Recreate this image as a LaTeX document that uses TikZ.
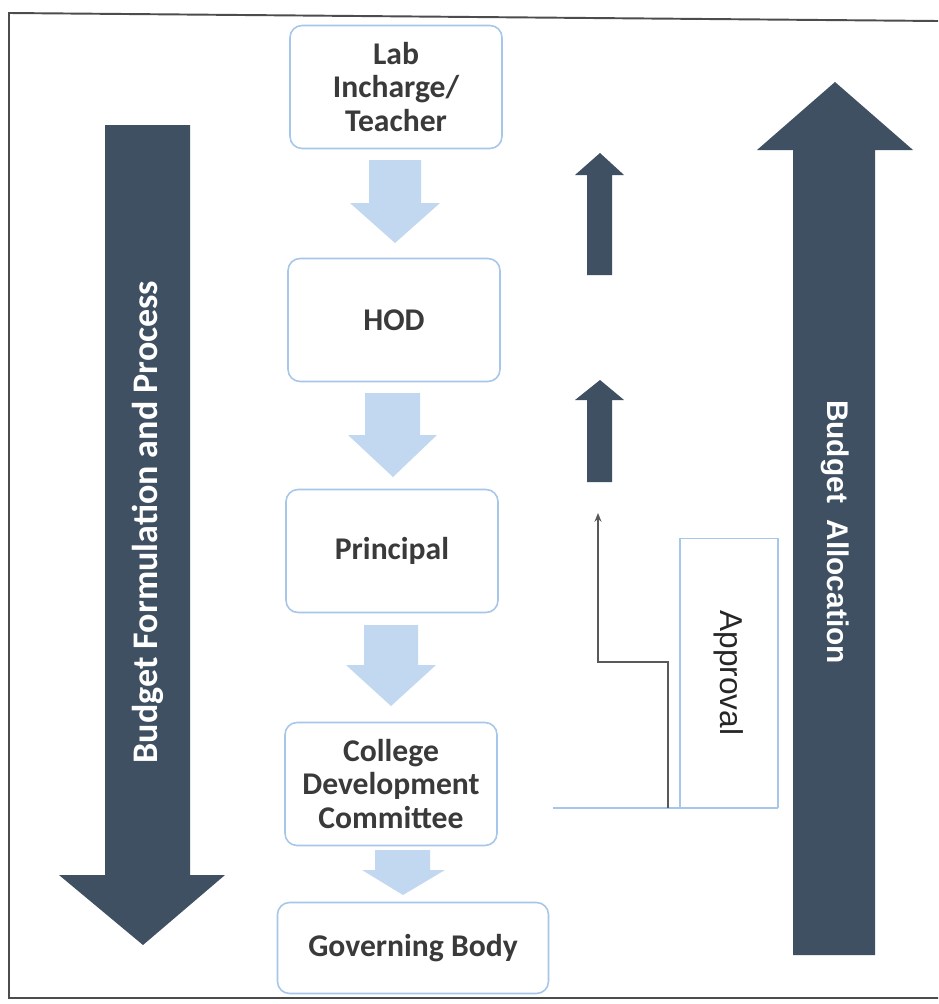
\documentclass[tikz,border=0pt]{standalone}
\usepackage{fontspec}
\setmainfont{Carlito}
\newfontfamily\arialfont{Liberation Sans}
\usetikzlibrary{positioning}
\usetikzlibrary{arrows.meta}
\usetikzlibrary{calc}

\definecolor{darkarrow}{HTML}{3E5061}
\definecolor{lightarrow}{HTML}{C2D8F1}
\definecolor{boxline}{HTML}{A6C6EA}
\definecolor{boxtext}{HTML}{3A3A3A}

\begin{document}
\begin{tikzpicture}[x=0.02cm,y=-0.02cm,
        stage/.style={draw=boxline, line width=0.9pt, rounded corners=0.24cm, fill=white,
            align=center, text=boxtext, font=\fontsize{18}{19}\selectfont\bfseries,
            minimum width=4.24cm, minimum height=2.46cm, inner sep=0pt},
        bigtext/.style={text=white, font=\fontsize{20.5}{22}\selectfont\bfseries}]
        \useasboundingbox (0,0) rectangle (938,1004);
        \fill[white] (0,0) rectangle (938,1004);
        \draw[line width=1.1pt, black!70] (938,21) -- (9,13) -- (9,998) -- (938,998);

        % the stages
        \node[stage] (lab) at (396,87) {Lab\\Incharge/\\Teacher};
        \node[stage] (hod) at (394,320) {HOD};
        \node[stage] (principal) at (392,551) {Principal};
        \node[stage] (cdc) at (391,784) {College\\Development\\Committee};
        \node[stage, minimum width=5.42cm, minimum height=1.82cm] (gb) at (413,948) {Governing Body};

        % light arrows between the stages
        \fill[lightarrow] (369,160) -- (421,160) -- (421,203) -- (440,203) -- (395,243)
            -- (350,203) -- (369,203) -- cycle;
        \fill[lightarrow] (365,393) -- (420,393) -- (420,435) -- (437,435) -- (393,477)
            -- (348,435) -- (365,435) -- cycle;
        \fill[lightarrow] (364,625) -- (418,625) -- (418,665) -- (436,665) -- (391,706)
            -- (346,665) -- (364,665) -- cycle;
        \fill[lightarrow] (375,850) -- (430,850) -- (430,870) -- (445,870) -- (403,895)
            -- (362,870) -- (375,870) -- cycle;

        % budget formulation (down)
        \fill[darkarrow] (105,125) -- (190,125) -- (190,875) -- (225,875) -- (143,945)
            -- (59,875) -- (105,875) -- cycle;
        \node[bigtext, rotate=90] (formulation) at (148,522) {Budget Formulation and Process};

        % budget allocation (up)
        \fill[darkarrow] (793,955) -- (875,955) -- (875,150) -- (913,150) -- (835,82)
            -- (757,150) -- (793,150) -- cycle;
        \node[bigtext, rotate=-90, font=\arialfont\fontsize{17}{19}\selectfont\bfseries]
            (allocation) at (835,532) {Budget\hspace{0.55em}Allocation};

        % small arrows
        \fill[darkarrow] (587,275) -- (612,275) -- (612,175) -- (624,175) -- (600,153)
            -- (575,175) -- (587,175) -- cycle;
        \fill[darkarrow] (587,482) -- (612,482) -- (612,400) -- (624,400) -- (600,380)
            -- (575,400) -- (587,400) -- cycle;

        % approval
        \node[draw=boxline, line width=0.7pt, rotate=-90, minimum width=5.38cm, minimum height=1.96cm,
            font=\arialfont\fontsize{18}{20}\selectfont, text=black!85] (approval) at (729,673) {Approval};
        \coordinate (baseleft) at (553,808);
        \coordinate (baseright) at (778,808);
        \coordinate (stepfoot) at (668,808);
        \coordinate (steptip) at (598,513);
        \draw[boxline, line width=0.8pt] (baseleft) -- (baseright);
        \draw[black!65, line width=0.9pt, -{Stealth[length=5pt,width=4pt]}]
            (stepfoot) -- ++(0,-146) -| (steptip);
    \end{tikzpicture}
\end{document}
